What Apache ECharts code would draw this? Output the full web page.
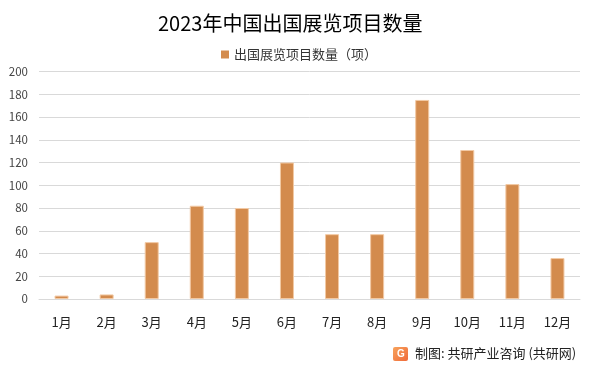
<!DOCTYPE html>
<html>
<head>
<meta charset="utf-8">
<script src="https://cdn.jsdelivr.net/npm/echarts@6/dist/echarts.min.js"></script>
<style>
html,body{margin:0;padding:0;background:#fff;}
#c{width:597px;height:371px;}
</style>
</head>
<body>
<div id="c"></div>
<script>
var titleText = '2023年中国出国展览项目数量';
var seriesName = '出国展览项目数量（项）';
var categories = ['1月','2月','3月','4月','5月','6月','7月','8月','9月','10月','11月','12月'];
var values = [3, 4, 50, 82, 80, 120, 57, 57, 175, 131, 101, 36];
var yTicks = [0, 20, 40, 60, 80, 100, 120, 140, 160, 180, 200];
var sourceText = '制图: 共研产业咨询 (共研网)';

var font = '"Microsoft YaHei","Noto Sans CJK SC",sans-serif';
var chart = echarts.init(document.getElementById('c'));
chart.setOption({
  backgroundColor: '#ffffff',
  animation: false,
  title: {
    text: titleText,
    left: 153,
    top: 8,
    textStyle: {fontFamily: font, fontSize: 20, fontWeight: 'normal', color: '#000'}
  },
  legend: {
    data: [seriesName],
    top: 43,
    left: 216,
    itemWidth: 8,
    itemHeight: 8,
    itemGap: 4,
    icon: 'rect',
    itemStyle: {borderWidth: 0},
    textStyle: {fontFamily: font, fontSize: 13, color: '#333'}
  },
  grid: {left: 39, right: 17, top: 71.5, bottom: 72},
  xAxis: {
    type: 'category',
    data: categories,
    axisTick: {show: false},
    axisLine: {lineStyle: {color: '#d9d9d9'}},
    axisLabel: {fontFamily: font, fontSize: 13, color: '#222', margin: 17}
  },
  yAxis: {
    type: 'value',
    min: yTicks[0],
    max: yTicks[yTicks.length - 1],
    interval: yTicks[1] - yTicks[0],
    axisLine: {show: false},
    axisTick: {show: false},
    splitLine: {lineStyle: {color: '#d9d9d9'}},
    axisLabel: {fontFamily: font, fontSize: 11.5, color: '#444', margin: 11}
  },
  series: [{
    name: seriesName,
    type: 'bar',
    data: values,
    barWidth: 14,
    itemStyle: {color: '#d38b4d', borderColor: '#f2c9a4', borderWidth: 1}
  }],
  graphic: [
    {
      type: 'rect',
      shape: {x: 393, y: 347, width: 15, height: 14, r: 2},
      style: {fill: new echarts.graphic.LinearGradient(0, 0, 1, 1, [{offset: 0, color: '#f7a35c'}, {offset: 1, color: '#f06a3a'}])}
    },
    {
      type: 'text',
      style: {x: 397, y: 349, text: 'G', fill: '#fff', font: 'bold 10px sans-serif'}
    },
    {
      type: 'text',
      style: {x: 415, y: 347, text: sourceText, fill: '#222', font: '13px ' + font}
    }
  ]
});
</script>
</body>
</html>
